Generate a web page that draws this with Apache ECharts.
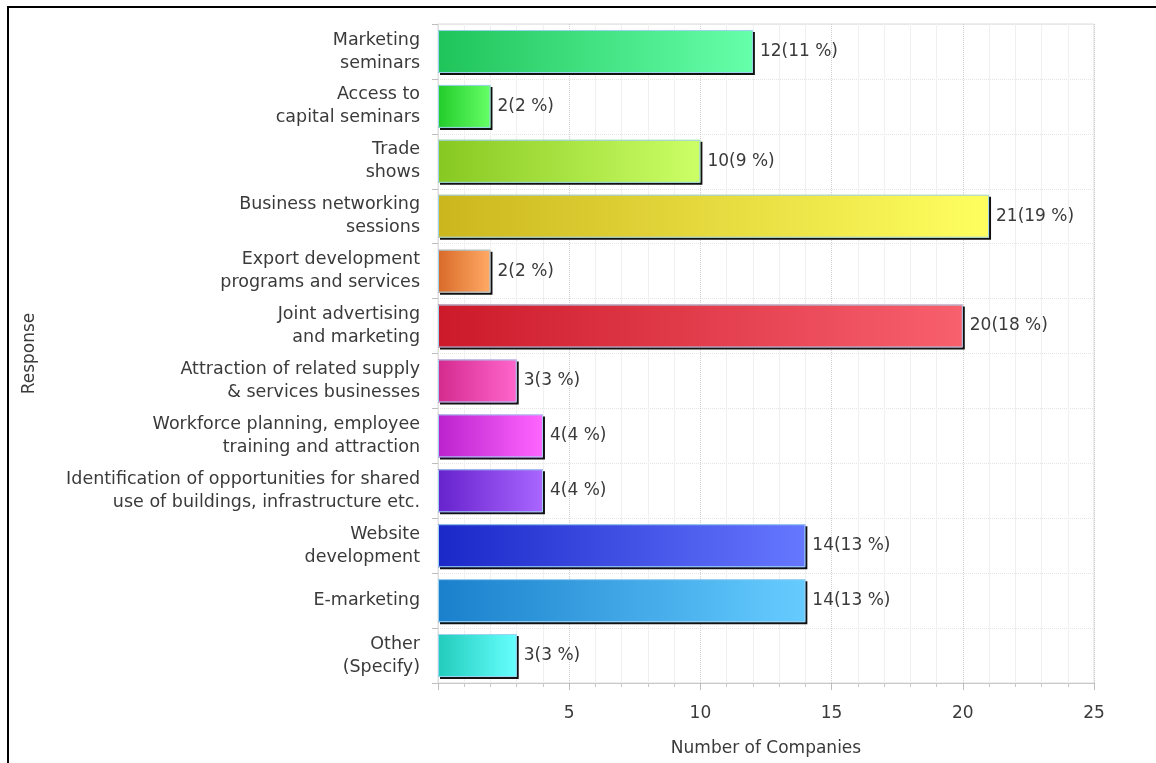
<!DOCTYPE html>
<html>
<head>
<meta charset="utf-8">
<script src="https://cdn.jsdelivr.net/npm/echarts@6/dist/echarts.min.js"></script>
<style>
  html, body { margin: 0; padding: 0; background: #fff; }
  #chart { width: 1156px; height: 763px; }
</style>
</head>
<body>
<div id="chart"></div>
<script>
// Survey responses: number of companies per service
const categories = [
  'Marketing\nseminars',
  'Access to\ncapital seminars',
  'Trade\nshows',
  'Business networking\nsessions',
  'Export development\nprograms and services',
  'Joint advertising\nand marketing',
  'Attraction of related supply\n& services businesses',
  'Workforce planning, employee\ntraining and attraction',
  'Identification of opportunities for shared\nuse of buildings, infrastructure etc.',
  'Website\ndevelopment',
  'E-marketing',
  'Other\n(Specify)'
];
const counts = [12, 2, 10, 21, 2, 20, 3, 4, 4, 14, 14, 3];
const percents = [11, 2, 9, 19, 2, 18, 3, 4, 4, 13, 13, 3];

// Gradient stops (dark left, light right) for each bar
const startColors = ['#1fc45a', '#22cc2a', '#88c822', '#ccb61e', '#d96a28', '#cc1a2a',
                     '#d42a8e', '#bb22cc', '#6622cc', '#1a28c8', '#1a80cc', '#22ccbb'];
const endColors   = ['#66ffaa', '#66ff66', '#ccff66', '#ffff60', '#ffaa66', '#f8606e',
                     '#ff66cc', '#ff66ff', '#aa66ff', '#6677ff', '#66ccff', '#66ffff'];

const xTicks = [0, 5, 10, 15, 20, 25];

const FONT = 'DejaVu Sans';
const TEXT = '#3a3a3a';

const gradient = i => new echarts.graphic.LinearGradient(0, 0, 1, 0, [
  { offset: 0, color: startColors[i] },
  { offset: 1, color: endColors[i] }
]);

const chart = echarts.init(document.getElementById('chart'));

chart.setOption({
  backgroundColor: '#fff',
  animation: false,
  graphic: [{
    type: 'rect',
    shape: { x: 8, y: 7, width: 1400, height: 1000 },
    style: { fill: 'none', stroke: '#000', lineWidth: 2 },
    silent: true
  }],
  grid: {
    left: 438, right: 62, top: 24, bottom: 80,
    show: true, borderColor: '#dcdcdc', borderWidth: 1, backgroundColor: 'transparent'
  },
  xAxis: {
    type: 'value',
    min: xTicks[0],
    max: xTicks[xTicks.length - 1],
    interval: 5,
    name: 'Number of Companies',
    nameLocation: 'middle',
    nameGap: 57,
    nameTextStyle: { fontFamily: FONT, fontSize: 17, color: TEXT },
    axisLine: { show: true, lineStyle: { color: '#c8c8c8', width: 1 } },
    axisTick: { show: true, length: 7, lineStyle: { color: '#bdbdbd' } },
    minorTick: { show: true, splitNumber: 5, length: 4, lineStyle: { color: '#c8c8c8' } },
    axisLabel: {
      margin: 22,
      fontFamily: FONT, fontSize: 17, color: TEXT,
      formatter: v => (v === 0 ? '' : String(v))
    },
    splitLine: { show: true, lineStyle: { color: '#cfcfcf', type: 'dotted' } },
    minorSplitLine: { show: true, lineStyle: { color: '#f0f0f0', type: 'solid' } }
  },
  yAxis: {
    type: 'category',
    inverse: true,
    data: categories,
    name: 'Response',
    nameLocation: 'middle',
    nameGap: 400,
    nameRotate: 90,
    nameTextStyle: { fontFamily: FONT, fontSize: 17, color: TEXT },
    axisLine: { show: true, lineStyle: { color: '#e0e0e0' } },
    axisTick: { show: true, length: 6, alignWithLabel: false, lineStyle: { color: '#bdbdbd' } },
    axisLabel: {
      margin: 18,
      fontFamily: FONT, fontSize: 17.5, color: TEXT, lineHeight: 23, align: 'right'
    },
    splitLine: { show: true, lineStyle: { color: '#e4e4e4', type: 'dotted' } }
  },
  series: [
    {
      // drop shadow layer underneath each bar
      type: 'bar',
      barWidth: 43,
      barGap: '-100%',
      silent: true,
      data: counts.map((v, i) => ({
        value: v,
        itemStyle: {
          color: gradient(i),
          shadowColor: '#111',
          shadowBlur: 0,
          shadowOffsetX: 2,
          shadowOffsetY: 2
        }
      }))
    },
    {
      type: 'bar',
      barWidth: 43,
      barGap: '-100%',
      data: counts.map((v, i) => ({
        value: v,
        itemStyle: {
          color: gradient(i),
          borderColor: '#9fd2f0',
          borderWidth: 1
        }
      })),
      label: {
        show: true,
        position: 'right',
        distance: 7,
        fontFamily: FONT, fontSize: 17, color: TEXT,
        formatter: p => p.value + '(' + percents[p.dataIndex] + ' %)'
      }
    }
  ]
});
</script>
</body>
</html>
